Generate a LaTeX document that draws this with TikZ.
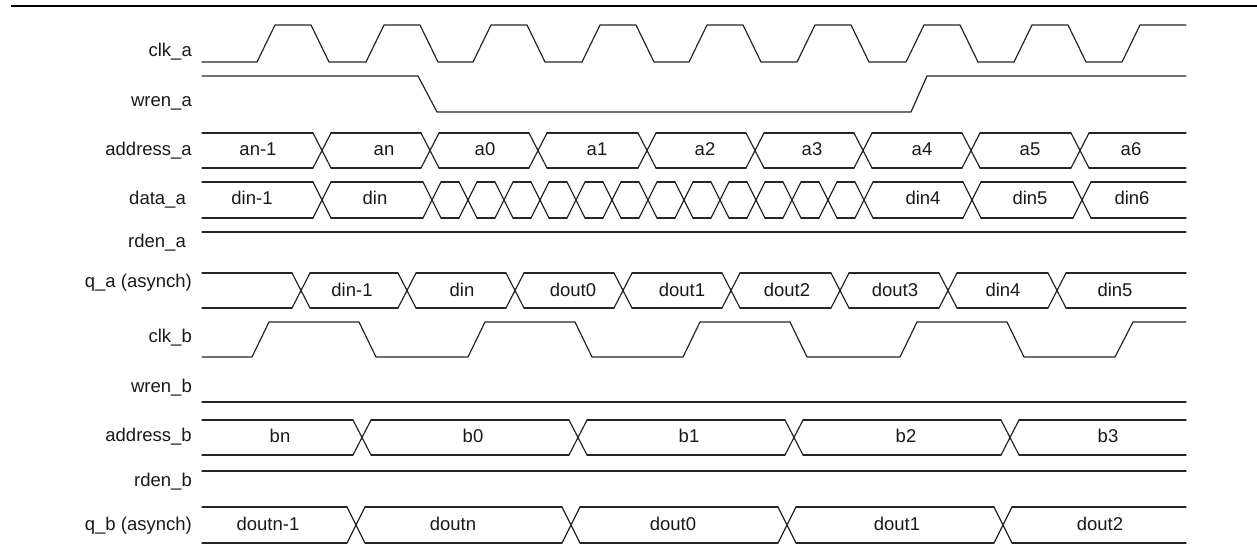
\documentclass[tikz,border=0pt]{standalone}
\usepackage{fontspec}
\setmainfont{Liberation Sans}
\usetikzlibrary{positioning}
\newcommand{\sigfont}{\fontsize{18.5pt}{20pt}\selectfont}
\tikzset{
  wave/.style={line width=1.2pt, draw=black!85, line cap=round, line join=round},
  signame/.style={anchor=east, inner sep=0pt, font=\sigfont, text=black!90,
    text height=13.3pt, text depth=3.7pt},
  busval/.style={inner sep=0pt, font=\sigfont, text=black!90,
    text height=13.3pt, text depth=3.7pt},
  topline/.style={line width=2.6pt, draw=black}
}
\newcommand{\hx}{9}
\newcommand{\bus}[3]{%
  \foreach \xc [remember=\xc as \xp (initially 193)] in {#3,1195}
    \draw[wave] (\xp+\hx,#1) -- (\xc-\hx,#1) (\xp+\hx,#2) -- (\xc-\hx,#2);
  \foreach \xc in {#3}
    \draw[wave] (\xc-\hx,#1) -- (\xc+\hx,#2) (\xc-\hx,#2) -- (\xc+\hx,#1);
}
\newcommand{\level}[1]{\draw[wave] (202,#1) -- (1186,#1);}

\begin{document}
\begin{tikzpicture}[x=1pt, y=-1pt]
  \useasboundingbox (0,0) rectangle (1257,556);
  \draw[topline] (11,6) -- (1257,6);

  \node[signame] (nclka)  at (192,52)  {clk\_a};
  \node[signame] (nwrena) at (192,102) {wren\_a};
  \node[signame] (nadra)  at (192,151) {address\_a};
  \node[signame] (ndata)  at (186,200) {data\_a};
  \node[signame] (nrdena) at (186,243) {rden\_a};
  \node[signame] (nqa)    at (192,283) {q\_a (asynch)};
  \node[signame] (nclkb)  at (192,338) {clk\_b};
  \node[signame] (nwrenb) at (192,388) {wren\_b};
  \node[signame] (nadrb)  at (192,437) {address\_b};
  \node[signame] (nrdenb) at (192,482) {rden\_b};
  \node[signame] (nqb)    at (192,526) {q\_b (asynch)};

  \draw[wave] (202,62) \foreach \r in {257,366,473,582,689,797,906,1014}
    { -- (\r,62) -- (\r+18,25) -- (\r+54,25) -- (\r+72,62) } -- (1122,62) -- (1140,25) -- (1186,25);
  \draw[wave] (202,76) -- (418,76) -- (437,112) -- (911,112) -- (927,76) -- (1186,76);
  \bus{133}{168}{322,430,538,647,755,863,971,1080}
  \bus{182}{218}{322,432,468,...,864,972,1082}
  \level{232}
  \bus{273}{308}{301,407,515,623,731,840,948,1057}
  \draw[wave] (202,357) \foreach \r in {252,468,683,900}
    { -- (\r,357) -- (\r+17,322) -- (\r+107,322) -- (\r+124,357) } -- (1115,357) -- (1133,322) -- (1186,322);
  \level{402}
  \bus{420}{455}{362,578,794,1010}
  \level{471}
  \bus{507}{543}{356,571,787,1003}

  \foreach \x/\t [count=\i] in {258/an-1,384/an,485/a0,597/a1,705/a2,812/a3,922/a4,1030/a5,1131/a6}
    \node[busval] (va\i) at (\x,151) {\t};
  \foreach \x/\t [count=\i] in {252/din-1,375/din,923/din4,1030/din5,1132/din6}
    \node[busval] (vd\i) at (\x,200) {\t};
  \foreach \x/\t [count=\i] in {352/din-1,462/din,573/dout0,682/dout1,787/dout2,895/dout3,1003/din4,1115/din5}
    \node[busval] (vq\i) at (\x,292) {\t};
  \foreach \x/\t [count=\i] in {280/bn,473/b0,689/b1,906/b2,1108/b3}
    \node[busval] (vb\i) at (\x,438) {\t};
  \foreach \x/\t [count=\i] in {268/doutn-1,453/doutn,673/dout0,897/dout1,1100/dout2}
    \node[busval] (vr\i) at (\x,526) {\t};
\end{tikzpicture}
\end{document}
